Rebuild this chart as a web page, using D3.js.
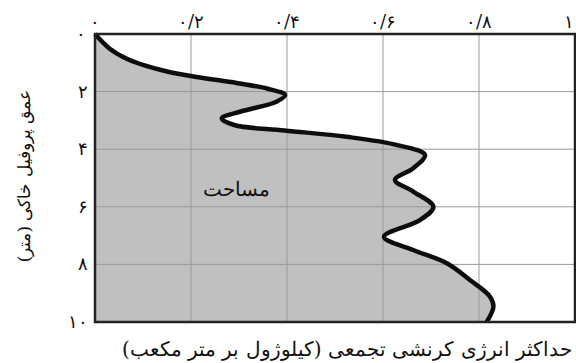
<!DOCTYPE html>
<html><head><meta charset="utf-8">
<script src="https://cdn.jsdelivr.net/npm/d3@7"></script>
<style>body{margin:0;background:#fff}svg{display:block}text{font-family:"DejaVu Serif","Times New Roman",serif;fill:#111}</style>
</head><body><svg id="c" width="576" height="363"></svg>
<script>
const depth = [0,0.5,0.85,1.1,1.3,1.5,1.7,1.9,2.12,2.35,2.7,2.93,3.16,3.35,3.57,3.85,4.2,4.66,5.07,5.47,6.0,6.46,7.04,7.5,7.96,8.54,9.12,9.47,10];
const energy = [0,0.03,0.065,0.105,0.15,0.215,0.295,0.36,0.396,0.378,0.302,0.264,0.29,0.395,0.524,0.628,0.6875,0.663,0.625,0.663,0.705,0.677,0.602,0.663,0.733,0.781,0.823,0.83,0.816];
const xTicks = [0,0.2,0.4,0.6,0.8,1];
const xTickLabels = ["۰","۰/۲","۰/۴","۰/۶","۰/۸","۱"];
const yTicks = [0,2,4,6,8,10];
const yTickLabels = ["۰","۲","۴","۶","۸","۱۰"];
const xTitle = "حداکثر انرژی کرنشی تجمعی (کیلوژول بر متر مکعب)";
const yTitle = "عمق پروفیل خاکی (متر)";
const areaLabel = "مساحت";

const svg = d3.select("#c");
const x = d3.scaleLinear().domain([0,1]).range([95,575]);
const y = d3.scaleLinear().domain([0,10]).range([34,322]);
const data = depth.map((d,i)=>({d, v: energy[i]}));

const defs = svg.append("defs");
const f = defs.append("filter").attr("id","blur").attr("x","-10%").attr("y","-10%").attr("width","120%").attr("height","120%");
f.append("feGaussianBlur").attr("stdDeviation",0.7);

svg.append("path").datum(data)
  .attr("d", d3.area().y(p=>y(p.d)).x0(x(0)).x1(p=>x(p.v)).curve(d3.curveCatmullRom))
  .attr("fill","#c0c0c0");

// grid
svg.append("g").selectAll("line").data(xTicks.slice(1,-1)).join("line")
  .attr("x1",d=>x(d)).attr("x2",d=>x(d)).attr("y1",y(0)).attr("y2",y(10))
  .attr("stroke","#999").attr("stroke-width",1);
svg.append("g").selectAll("line").data(yTicks.slice(1,-1)).join("line")
  .attr("y1",d=>y(d)).attr("y2",d=>y(d)).attr("x1",x(0)).attr("x2",x(1))
  .attr("stroke","#999").attr("stroke-width",1);

svg.append("path").datum(data)
  .attr("d", d3.line().x(p=>x(p.v)).y(p=>y(p.d)).curve(d3.curveCatmullRom))
  .attr("fill","none").attr("stroke","#111").attr("stroke-width",4.5).attr("filter","url(#blur)");

svg.append("rect").attr("x",x(0)).attr("y",y(0)).attr("width",x(1)-x(0)).attr("height",y(10)-y(0))
  .attr("fill","none").attr("stroke","#222").attr("stroke-width",2.5);

// tick labels
svg.append("g").selectAll("text").data(xTicks).join("text")
  .attr("x",d=>Math.min(x(d),569)).attr("y",28).attr("text-anchor","middle").attr("font-size",18)
  .attr("direction","ltr")
  .text((d,i)=>xTickLabels[i]);
svg.append("g").selectAll("text").data(yTicks).join("text")
  .attr("x",(d,i)=>i===0?86:88).attr("y",d=>y(d)+6).attr("text-anchor","end").attr("font-size",18)
  .attr("direction","ltr")
  .text((d,i)=>yTickLabels[i]);

svg.append("text").attr("transform","translate(30,176) rotate(-90)").attr("text-anchor","middle")
  .attr("font-size",17).attr("direction","rtl").text(yTitle);
svg.append("text").attr("x",347).attr("y",356).attr("text-anchor","middle")
  .attr("font-size",20).attr("direction","rtl").text(xTitle);
svg.append("text").attr("x",236).attr("y",196).attr("text-anchor","middle")
  .attr("font-size",20).attr("direction","rtl").text(areaLabel);
</script></body></html>
